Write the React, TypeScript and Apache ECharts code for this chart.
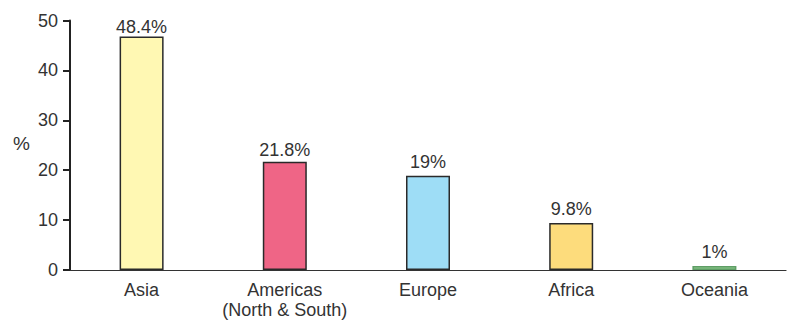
import React, { useEffect, useRef } from "react";
import * as echarts from "echarts";

const categories = ["Asia", "Americas\n(North & South)", "Europe", "Africa", "Oceania"];
const shareLabels = ["48.4%", "21.8%", "19%", "9.8%", "1%"];
const barHeights = [46.8, 21.7, 18.9, 9.4, 0.8];
const barColors = ["#FFF8B3", "#EF6586", "#9EDDF6", "#FDDC7C", "#8FCB8D"];
const borderColors = ["#2a2a2a", "#2a2a2a", "#2a2a2a", "#2a2a2a", "#5f9e66"];
const yTicks = [0, 10, 20, 30, 40, 50];

const labelGapStyle = [0, 3, 5, 5, 5];

export default function App() {
  const ref = useRef<HTMLDivElement>(null);
  useEffect(() => {
    const chart = echarts.init(ref.current!, null, { renderer: "svg" });
    const font = "'Liberation Sans', Arial, Helvetica, sans-serif";
    chart.setOption({
      animation: false,
      textStyle: { fontFamily: font },
      grid: { left: 70, right: 2, top: 20.5, bottom: 50, containLabel: false },
      graphic: [
        {
          type: "text",
          left: 13,
          top: 134,
          style: { text: "%", fontSize: 19, fill: "#333", fontFamily: font },
        },
      ],
      xAxis: {
        type: "category",
        data: categories,
        axisLine: { show: true, lineStyle: { color: "#333", width: 1.2 } },
        axisTick: { show: false },
        axisLabel: {
          color: "#333",
          fontSize: 18,
          margin: 10,
          lineHeight: 20,
          fontFamily: font,
          interval: 0,
        },
      },
      yAxis: {
        type: "value",
        min: 0,
        max: 50,
        interval: 10,
        splitLine: { show: false },
        axisLine: { show: true, lineStyle: { color: "#222", width: 2 } },
        axisTick: { show: true, length: 7, lineStyle: { color: "#222", width: 2 } },
        axisLabel: {
          color: "#333",
          fontSize: 18,
          margin: 12,
          fontFamily: font,
          formatter: (v: number) => (yTicks.includes(v) ? String(v) : ""),
        },
      },
      series: [
        {
          type: "bar",
          barWidth: 44,
          data: barHeights.map((v, i) => ({
            value: v,
            itemStyle: {
              color: barColors[i],
              borderColor: borderColors[i],
              borderWidth: 1.5,
            },
            label: {
              show: true,
              position: "top",
              distance: labelGapStyle[i],
              formatter: shareLabels[i],
              color: "#333",
              fontSize: 18,
              fontFamily: font,
            },
          })),
        },
      ],
    });
    return () => chart.dispose();
  }, []);
  return (
    <div
      ref={ref}
      style={{ position: "absolute", left: 0, top: 0, width: 788, height: 320 }}
    />
  );
}
